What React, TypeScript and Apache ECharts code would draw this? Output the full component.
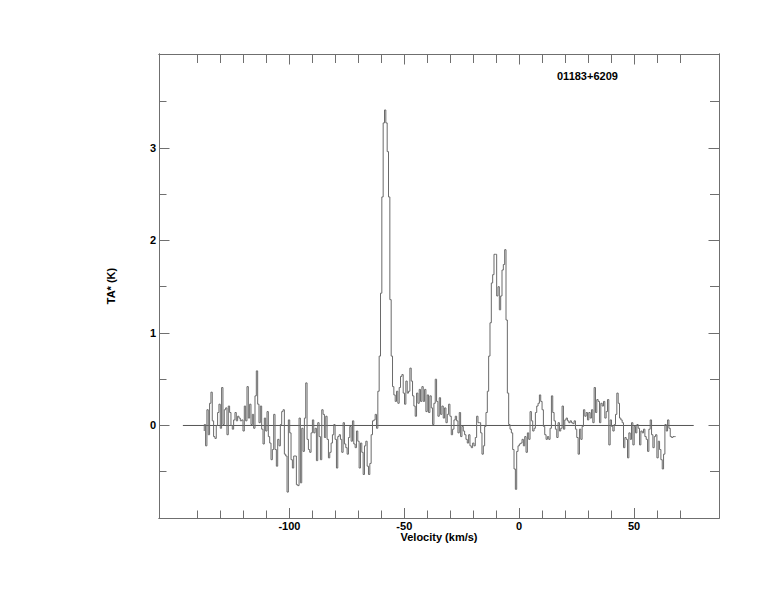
import React, { useEffect, useRef } from "react";
import * as echarts from "echarts";

// Spectrum channel values (TA*, K), read left to right
const seg1 = [-0.06, 0.01, -0.22, 0.17, -0.1, 0.24, 0.36, 0.05, -0.12, -0.14, 0, 0.14, 0.23, -0.03, 0.41, 0.01, 0.17, 0.19, -0.1, 0.21, 0.14, 0, -0.04, 0.06, 0.14, 0.05, 0.1, 0.08, 0.05, 0.06, -0.06, 0.21, 0.05, 0.42, 0.08, 0.23, 0.01, 0.12, -0.03, 0.32, 0.59, 0.23, 0.03, 0.21, -0.04, -0.2, 0.08, -0.06, 0.15, -0.12, -0.19, -0.37, -0.26, 0.12, -0.26, -0.44, -0.15, -0.22, 0.01, 0.15];
const seg2 = [0.17, -0.31, -0.33, -0.72, 0.06, -0.08, -0.37, -0.46, -0.33, -0.33, -0.64, -0.65, 0.08, -0.62, -0.03, -0.28, 0.08, 0.46, -0.15, -0.26, -0.29, -0.08, 0.06, -0.08, -0.03, -0.38, 0.03, -0.12, -0.37, 0.17, 0.12, -0.13, 0.1, -0.15, -0.35, -0.29, -0.19, -0.1, 0.01, -0.15, -0.46, -0.12, -0.1, -0.15, -0.29, 0.03, -0.2, -0.24, -0.31, -0.13, -0.01, -0.17, 0.05, -0.2, -0.24, -0.06, -0.17, -0.46, -0.19, -0.29, -0.53, -0.22, -0.17, -0.44, -0.53, -0.41, -0.1, 0.05];
const seg3 = [0.06, 0.12, -0.03, 0.37, 0.75, 1.43, 2.47, 3.27, 3.41, 3.27, 2.96, 2.47, 1.36, 0.75, 0.42, 0.33, 0.26, 0.37, 0.24, 0.41, 0.53, 0.55, 0.35, 0.23, 0.48, 0.35, 0.37, 0.62, 0.48, 0.32, 0.21, 0.1, 0.35, 0.24, 0.39, 0.26, 0.42, 0.26, 0.39, 0.15, 0.33, 0.14, 0.32, 0.19, 0.01, 0.24, 0.5, 0.26, 0.1, 0.3, 0.12, 0.21, 0.08, 0.19, 0.03, 0.12, 0.23, 0.1, -0.1, -0.04, 0.06, 0.1, 0.05, -0.08];
const seg4 = [0.14, -0.12, -0.01, -0.06, -0.1, -0.15, -0.19, -0.1, -0.22, -0.24, -0.19, -0.22, -0.13, 0.1, 0.03, 0.03, -0.08, -0.31, -0.22, -0.01, 0.14, 0.37, 0.75, 1.11, 1.54, 1.63, 1.85, 1.85, 1.4, 1.5, 1.25, 1.4, 1.68, 1.74, 1.9, 1.14, 0.35, 0.01, -0.04, -0.08, -0.26, -0.47, -0.69, -0.28, -0.22, -0.2, -0.19, -0.15, -0.22, -0.12, -0.29, -0.08, -0.15, 0.15, 0.05, -0.06];
const seg5 = [-0.03, 0.14, 0.21, 0.24, 0.33, 0.26, 0.17, -0.01, -0.1, -0.15, -0.12, -0.15, -0.03, 0.32, 0.14, 0.05, -0.04, -0.13, 0.03, -0.06, -0.03, 0.21, -0.04, 0.06, 0.08, 0.05, 0.03, 0.05, 0.03, 0.02, 0.05, -0.04, -0.13, -0.31, -0.04, -0.15, -0.01, 0.17, 0.1, 0.14, 0.06, 0.14, 0.08, 0.17, 0.03, 0.41, 0.14, 0.28, 0.26, 0.03, 0.24, 0.21];
const seg6 = [0.26, 0.08, 0.15, 0.28, -0.21, 0.06, -0.01, -0.06, 0.01, 0.12, 0.35, 0.24, 0.08, 0.06, 0.03, -0.24, -0.13, -0.15, -0.35, -0.08, -0.15, 0.03, -0.21, -0.01, -0.08, 0.01, -0.03, -0.21, -0.06, -0.08, -0.04, -0.12, -0.15, -0.28, -0.04, 0.06, -0.1, -0.24, -0.12, -0.1, -0.35, -0.17, -0.26, -0.37, -0.47, -0.31, 0.01, -0.06, 0.06, -0.03, -0.12, -0.13, -0.12];

const velStart = -137.1; // km/s, first channel left edge
const velEnd = 68.1; // km/s, last channel right edge
const baselineRange = [-146.4, 76];

const xMin = -156.8;
const xMax = 87;
const yMin = -1;
const yMax = 4.015;
const xMajor = [-100, -50, 0, 50];
const xMinor = [-140, -130, -120, -110, -90, -80, -70, -60, -40, -30, -20, -10, 10, 20, 30, 40, 60, 70];
const yMajor = [0, 1, 2, 3];
const yMinor = [-0.5, 0.5, 1.5, 2.5, 3.5];

const sourceName = "01183+6209";
const xName = "Velocity (km/s)";
const yName = "TA* (K)";

const AXIS_COLOR = "#6f6f6f";
const FONT = "'Liberation Sans', Arial, sans-serif";

export default function App() {
  const ref = useRef<HTMLDivElement>(null);
  useEffect(() => {
    if (!ref.current) return;
    const chart = echarts.init(ref.current, null, { renderer: "svg" });
    const values = [...seg1, ...seg2, ...seg3, ...seg4, ...seg5, ...seg6];
    const step = (velEnd - velStart) / values.length;
    const spectrum = values.map((v, i) => [velStart + i * step, v]);
    spectrum.push([velEnd, values[values.length - 1]]);

    const gridRect = { left: 159, top: 54, right: 55, bottom: 94 };
    const lineStyle = { color: AXIS_COLOR, width: 1 };
    const labelStyle = { color: "#000", fontWeight: "bold" as const, fontSize: 11, fontFamily: FONT };

    const xAxisOf = (grid: number, pos: "bottom" | "top", ticks: number[], len: number, labels: boolean) => ({
      type: "value",
      gridIndex: grid,
      position: pos,
      min: xMin,
      max: xMax,
      axisLine: { show: true, onZero: false, lineStyle },
      axisTick: { show: true, inside: true, length: len, customValues: ticks, lineStyle },
      axisLabel: labels
        ? { show: true, customValues: xMajor, margin: 2, ...labelStyle }
        : { show: false },
      splitLine: { show: false },
      ...(labels
        ? {
            name: xName,
            nameLocation: "middle",
            nameGap: 13,
            nameMoveOverlap: false,
            nameTextStyle: { ...labelStyle },
          }
        : {}),
    });
    const yAxisOf = (grid: number, pos: "left" | "right", ticks: number[], len: number, labels: boolean) => ({
      type: "value",
      gridIndex: grid,
      position: pos,
      min: yMin,
      max: yMax,
      axisLine: { show: true, onZero: false, lineStyle },
      axisTick: { show: true, inside: true, length: len, customValues: ticks, lineStyle },
      axisLabel: labels
        ? { show: true, customValues: yMajor, margin: 3, ...labelStyle }
        : { show: false },
      splitLine: { show: false },
      ...(labels
        ? {
            name: yName,
            nameLocation: "middle",
            nameGap: 43,
            nameRotate: 90,
            nameMoveOverlap: false,
            nameTextStyle: { ...labelStyle },
          }
        : {}),
    });

    chart.setOption({
      animation: false,
      backgroundColor: "#fff",
      grid: [
        { ...gridRect, containLabel: false },
        { ...gridRect, containLabel: false },
      ],
      title: {
        text: sourceName,
        left: 552,
        top: 65,
        textStyle: { ...labelStyle },
      },
      xAxis: [
        xAxisOf(0, "bottom", xMajor, 10, true),
        xAxisOf(0, "top", xMajor, 10.5, false),
        xAxisOf(1, "bottom", xMinor, 7.5, false),
        xAxisOf(1, "top", xMinor, 9, false),
      ],
      yAxis: [
        yAxisOf(0, "left", yMajor, 10.5, true),
        yAxisOf(0, "right", yMajor, 10.5, false),
        yAxisOf(1, "left", yMinor, 7.5, false),
        yAxisOf(1, "right", yMinor, 9, false),
      ],
      series: [
        {
          type: "line",
          xAxisIndex: 0,
          yAxisIndex: 0,
          data: baselineRange.map((v) => [v, 0]),
          showSymbol: false,
          silent: true,
          lineStyle: { color: "#555", width: 1 },
        },
        {
          type: "line",
          xAxisIndex: 0,
          yAxisIndex: 0,
          data: spectrum,
          step: "start",
          showSymbol: false,
          silent: true,
          lineStyle: { color: "#6a6a6a", width: 1 },
        },
        {
          type: "line",
          xAxisIndex: 2,
          yAxisIndex: 2,
          data: [],
          showSymbol: false,
        },
      ],
    });
    return () => chart.dispose();
  }, []);
  return (
    <div
      ref={ref}
      style={{ position: "fixed", left: 0, top: 0, width: 774, height: 612, background: "#fff" }}
    />
  );
}
